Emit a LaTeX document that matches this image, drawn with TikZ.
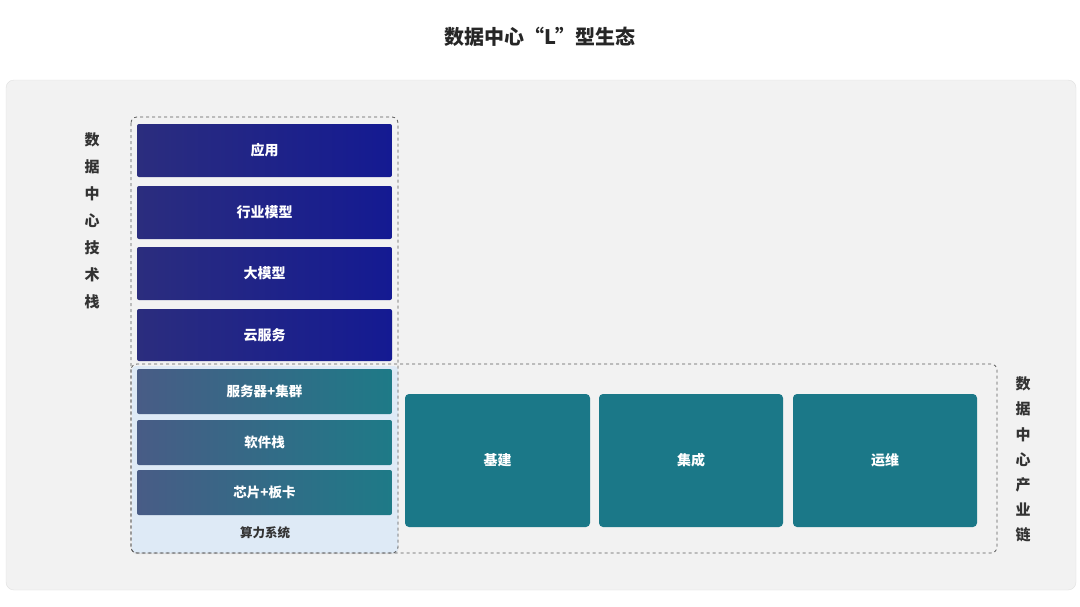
\documentclass[tikz,border=0pt]{standalone}
\usepackage{fontspec}
\setmainfont{Noto Sans CJK SC}
\usetikzlibrary{shadows}
\definecolor{panel}{HTML}{F2F2F2}
\definecolor{blueL}{HTML}{2B2D7E}
\definecolor{blueR}{HTML}{141A92}
\definecolor{tealL}{HTML}{485C86}
\definecolor{tealR}{HTML}{1E7A87}
\definecolor{teal}{HTML}{1B7888}
\definecolor{lightbg}{HTML}{DEEAF6}
\definecolor{txt}{HTML}{333333}
\tikzset{
 bluebox/.style={rounded corners=2pt,left color=blueL,right color=blueR,text=white,font=\bfseries\fontsize{14}{16}\selectfont},
 tealgrad/.style={rounded corners=2pt,left color=tealL,right color=tealR,text=white,font=\bfseries\fontsize{13.5}{16}\selectfont},
 tealbox/.style={rounded corners=4pt,fill=teal,text=white,font=\bfseries\fontsize{14}{16}\selectfont},
 dashbox/.style={draw=gray!70!black,dashed,rounded corners=6pt,line width=0.8pt},
 vlabel/.style={text=txt,font=\bfseries\fontsize{15}{16}\selectfont}
}
\begin{document}
\begin{tikzpicture}[x=1pt,y=-1pt]
\useasboundingbox (0,0) rectangle (1080,606);
\fill[white] (0,0) rectangle (1080,606);
\node[font=\bfseries\fontsize{20}{24}\selectfont,text=black!85] (title) at (540,37) {数据中心“L”型生态};
\draw[draw=black!12,fill=panel,rounded corners=8pt] (6,80) rectangle (1076,590);
\fill[lightbg,rounded corners=4pt,drop shadow={opacity=0.15,shadow xshift=0pt,shadow yshift=-1pt}] (132,366) rectangle (398,553);
\draw[dashbox] (131,117) rectangle (398,553);
\draw[dashbox] (131,364) rectangle (997,553);
\foreach \n/\t/\a/\b in {app/应用/124/177, ind/行业模型/186/239, big/大模型/247/300, cloud/云服务/309/361}{
 \shade[bluebox] (137,\a) rectangle (392,\b);
 \node[text=white,font=\bfseries\fontsize{14}{16}\selectfont] (\n) at (264.5,{(\a+\b)/2}) {\t};
}
\foreach \n/\t/\a/\b in {srv/服务器+集群/369/414, sw/软件栈/420/465, chip/芯片+板卡/470/515}{
 \shade[tealgrad] (137,\a) rectangle (392,\b);
 \node[text=white,font=\bfseries\fontsize{13.5}{16}\selectfont] (\n) at (264.5,{(\a+\b)/2}) {\t};
}
\node[text=txt,font=\bfseries\fontsize{12.5}{14}\selectfont] (calc) at (265,533) {算力系统};
\node[tealbox,minimum width=185pt,minimum height=133pt] (jj) at (497.5,460.5) {基建};
\node[tealbox,minimum width=184pt,minimum height=133pt] (jc) at (691,460.5) {集成};
\node[tealbox,minimum width=184pt,minimum height=133pt] (yw) at (885,460.5) {运维};
\foreach \c [count=\i] in {数,据,中,心,技,术,栈}{
 \node[vlabel] (l\i) at (92,{140+(\i-1)*27}) {\c};
}
\foreach \c [count=\i] in {数,据,中,心,产,业,链}{
 \node[vlabel] (r\i) at (1023,{384+(\i-1)*25.2}) {\c};
}
\end{tikzpicture}
\end{document}
